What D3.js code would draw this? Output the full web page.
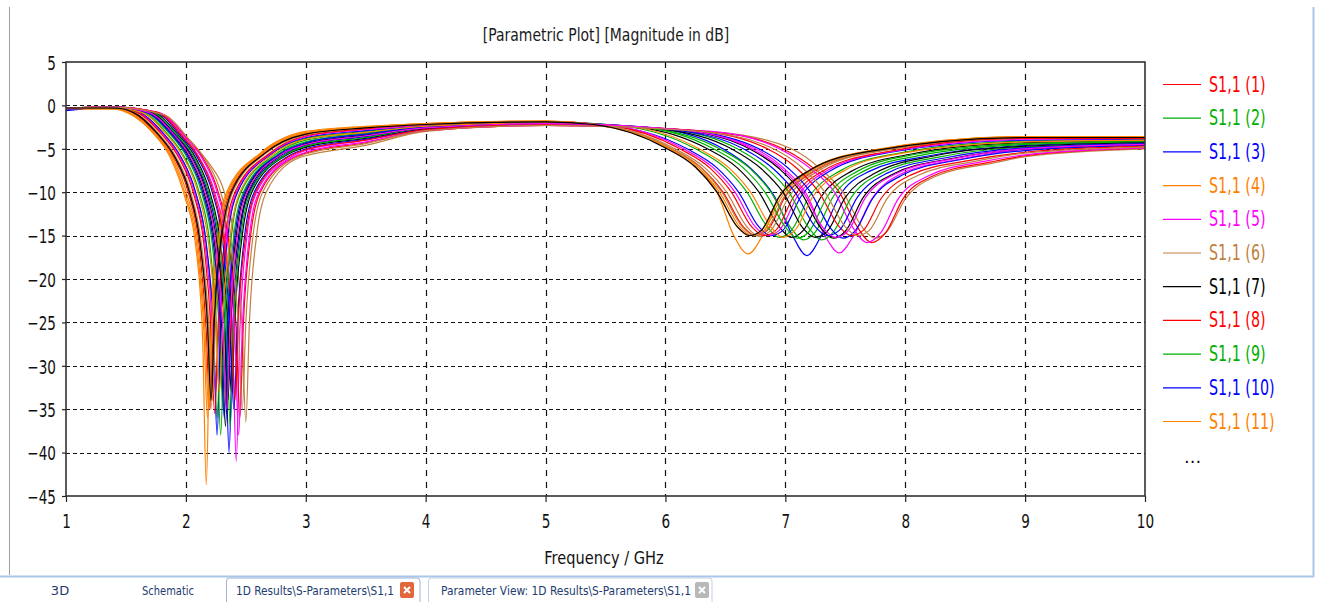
<!DOCTYPE html>
<html>
<head>
<meta charset="UTF-8">
<title>S1,1 parametric plot</title>
<style>
  body { margin: 0; background: #fff; }
  svg { display: block; font-family: "DejaVu Sans", sans-serif; }
</style>
</head>
<body>
<svg width="1320" height="602"></svg>
<script src="https://d3js.org/d3.v7.min.js"></script>
<script>

// axis ticks
const freqTicks = [1, 2, 3, 4, 5, 6, 7, 8, 9, 10];
const dbTicks = [5, 0, -5, -10, -15, -20, -25, -30, -35, -40, -45];

// legend entries (first 11 are shown, then "...")
const legendLabels = ["S1,1 (1)", "S1,1 (2)", "S1,1 (3)", "S1,1 (4)", "S1,1 (5)", "S1,1 (6)",
  "S1,1 (7)", "S1,1 (8)", "S1,1 (9)", "S1,1 (10)", "S1,1 (11)"];
const tabLabels = ["3D", "Schematic", "1D Results\\S-Parameters\\S1,1", "Parameter View:  1D Results\\S-Parameters\\S1,1"];

// CST colour cycle
const colors = ["#ff0000", "#00b000", "#0000ff", "#ff8000", "#ff00ff", "#c08040", "#000000"];

// S1,1 curves: [GHz, dB]
const c1 = [[1,-0.3],[1.4,-0.3],[1.55,-0.8],[1.75,-3.2],[1.9,-6],[2.02,-10],[2.11,-16],[2.17,-26],[2.2,-35],[2.23,-25],[2.29,-15],[2.37,-10],[2.65,-5.5],[3,-3.3],[3.5,-2.6],[4,-2.2],[5,-1.9],[5.45,-2.3],[6.05,-5],[6.3,-7.2],[6.48,-10],[6.65,-14],[6.75,-15],[6.85,-14.4],[7,-10.5],[7.25,-7.5],[7.75,-5.3],[9,-3.7],[10,-3.7]];
const c2 = [[1,-0.3],[1.4,-0.2],[1.61,-0.8],[1.81,-3.2],[1.96,-6],[2.08,-10],[2.17,-16],[2.23,-26],[2.26,-36],[2.29,-25],[2.35,-15],[2.43,-10],[2.71,-5.6],[3,-3.8],[3.5,-3],[4,-2.3],[5,-1.9],[5.65,-2.4],[6.25,-5],[6.5,-7.2],[6.68,-10],[6.85,-14],[6.95,-15.2],[7.05,-14.4],[7.2,-10.5],[7.45,-7.6],[7.95,-5.5],[9,-4.1],[10,-3.9]];
const c3 = [[1,-0.6],[1.4,-0.2],[1.71,-0.8],[1.91,-3.3],[2.06,-6],[2.18,-10],[2.27,-16],[2.33,-27],[2.36,-40],[2.39,-26],[2.45,-15],[2.53,-10],[2.81,-5.8],[3,-4.6],[3.5,-3.6],[4,-2.6],[5,-2.1],[5.88,-2.6],[6.48,-5],[6.73,-7.5],[6.91,-10.5],[7.06,-15],[7.18,-17.3],[7.3,-15],[7.45,-10.5],[7.7,-7.6],[8.2,-5.8],[9,-4.6],[10,-4.2]];
const c4 = [[1,-0.4],[1.4,-0.4],[1.52,-0.9],[1.72,-3.1],[1.87,-6],[1.99,-10.5],[2.08,-16],[2.14,-27],[2.17,-43.7],[2.2,-26],[2.26,-15],[2.34,-10],[2.62,-5.5],[3,-3],[3.5,-2.4],[4,-2.1],[5,-1.8],[5.4,-2.2],[6,-4.7],[6.24,-7],[6.43,-10],[6.57,-15],[6.69,-17.1],[6.81,-15],[6.95,-10.5],[7.2,-7.5],[7.69,-5.3],[9,-3.6],[10,-3.6]];
const c5 = [[1,-0.3],[1.4,-0.2],[1.77,-0.8],[1.97,-3.5],[2.12,-6.2],[2.24,-10],[2.33,-16],[2.39,-27],[2.42,-41],[2.45,-26],[2.51,-15],[2.59,-10],[2.87,-6],[3,-5.2],[3.5,-4],[4,-2.8],[5,-2.2],[6.15,-2.9],[6.75,-5],[7,-7.4],[7.18,-10.3],[7.33,-15],[7.45,-17],[7.57,-15],[7.72,-10.8],[7.95,-8],[8.45,-6.2],[9,-5.1],[10,-4.6]];
const c6 = [[1,-0.3],[1.4,-0.2],[1.85,-1.5],[2,-4],[2.2,-6.8],[2.32,-10],[2.41,-16],[2.47,-26],[2.5,-36.5],[2.53,-25],[2.59,-15],[2.67,-10],[2.95,-6],[3,-5.8],[3.5,-4.6],[4,-3],[5,-2.3],[6.45,-3.1],[7.05,-5],[7.3,-7.4],[7.48,-10],[7.65,-14.2],[7.75,-15.3],[7.85,-14.5],[8,-10.8],[8.25,-8.2],[8.75,-6.6],[9,-5.9],[10,-5]];
const c7 = [[1,-0.3],[1.4,-0.3],[1.68,-0.8],[1.88,-3.2],[2.03,-6],[2.15,-10],[2.24,-16],[2.3,-26],[2.33,-37],[2.36,-25],[2.42,-15],[2.5,-10],[2.78,-5.7],[3,-4.4],[3.5,-3.4],[4,-2.5],[5,-2],[5.75,-2.5],[6.35,-5],[6.6,-7.2],[6.78,-10],[6.95,-14],[7.05,-15.2],[7.15,-14.4],[7.3,-10.5],[7.55,-7.6],[8.05,-5.6],[9,-4.3],[10,-4.1]];
const c8 = [[1,-0.3],[1.4,-0.2],[1.8,-1],[2,-3.6],[2.15,-6.2],[2.27,-10],[2.36,-16],[2.42,-26],[2.45,-36],[2.48,-25],[2.54,-15],[2.62,-10],[2.9,-6],[3,-5.5],[3.5,-4.3],[4,-2.9],[5,-2.3],[6.42,-3.1],[6.98,-5],[7.25,-7.4],[7.45,-10],[7.6,-14],[7.72,-15.8],[7.84,-14.6],[7.98,-10.8],[8.22,-8.2],[8.72,-6.5],[9,-5.8],[10,-4.9]];
const c9 = [[1,-0.3],[1.4,-0.3],[1.66,-0.8],[1.86,-3.2],[2.01,-6],[2.13,-10],[2.22,-16],[2.28,-26],[2.31,-35],[2.34,-25],[2.4,-15],[2.48,-10],[2.76,-5.7],[3,-4.2],[3.5,-3.3],[4,-2.5],[5,-2],[5.85,-2.6],[6.45,-5],[6.7,-7.2],[6.88,-10],[7.05,-14.2],[7.15,-15.5],[7.25,-14.6],[7.4,-10.5],[7.65,-7.6],[8.15,-5.7],[9,-4.5],[10,-4.2]];
const c10 = [[1,-0.4],[1.4,-0.3],[1.61,-0.8],[1.81,-3.2],[1.96,-6],[2.08,-10],[2.17,-16],[2.23,-26],[2.26,-38],[2.29,-25],[2.35,-15],[2.43,-10],[2.71,-5.6],[3,-3.7],[3.5,-2.9],[4,-2.3],[5,-1.9],[5.58,-2.4],[6.18,-5],[6.43,-7.2],[6.61,-10],[6.78,-14],[6.88,-15],[6.98,-14.4],[7.13,-10.5],[7.38,-7.5],[7.88,-5.4],[9,-4],[10,-3.9]];
const c11 = [[1,-0.4],[1.4,-0.4],[1.53,-0.9],[1.73,-3.2],[1.88,-6],[2,-10.5],[2.09,-16],[2.15,-26],[2.18,-36],[2.21,-25],[2.27,-15],[2.35,-10],[2.63,-5.5],[3,-3.1],[3.5,-2.5],[4,-2.1],[5,-1.8],[5.42,-2.2],[6.02,-4.8],[6.27,-7.1],[6.45,-10],[6.62,-14],[6.72,-15],[6.82,-14.4],[6.97,-10.5],[7.22,-7.5],[7.72,-5.3],[9,-3.6],[10,-3.7]];
const c12 = [[1,-0.3],[1.4,-0.2],[1.6,-0.8],[1.8,-3.2],[1.95,-6],[2.07,-10],[2.16,-16],[2.22,-25],[2.25,-33],[2.28,-24],[2.34,-15],[2.42,-10],[2.7,-5.6],[3,-3.6],[3.5,-2.8],[4,-2.3],[5,-1.9],[5.55,-2.3],[6.15,-5],[6.4,-7.2],[6.58,-10],[6.75,-14],[6.85,-15],[6.95,-14.4],[7.1,-10.5],[7.35,-7.5],[7.85,-5.4],[9,-3.9],[10,-3.8]];
const c13 = [[1,-0.4],[1.4,-0.3],[1.56,-0.8],[1.76,-3.2],[1.91,-6],[2.03,-10],[2.12,-16],[2.18,-26],[2.21,-35],[2.24,-25],[2.3,-15],[2.38,-10],[2.66,-5.5],[3,-3.3],[3.5,-2.6],[4,-2.2],[5,-1.9],[5.48,-2.3],[6.08,-5],[6.33,-7.2],[6.51,-10],[6.68,-14],[6.78,-15.1],[6.88,-14.4],[7.03,-10.5],[7.28,-7.5],[7.78,-5.3],[9,-3.8],[10,-3.7]];
const c14 = [[1,-0.3],[1.4,-0.2],[1.73,-0.8],[1.93,-3.3],[2.08,-6],[2.2,-10],[2.29,-16],[2.35,-25],[2.38,-33],[2.41,-24],[2.47,-15],[2.55,-10],[2.83,-5.8],[3,-4.8],[3.5,-3.8],[4,-2.7],[5,-2.1],[6.1,-2.8],[6.7,-5],[6.95,-7.3],[7.13,-10],[7.3,-14.2],[7.4,-15.3],[7.5,-14.5],[7.65,-10.6],[7.9,-7.9],[8.4,-6.1],[9,-5],[10,-4.5]];
const c15 = [[1,-0.3],[1.4,-0.3],[1.59,-0.8],[1.79,-3.2],[1.94,-6],[2.06,-10],[2.15,-16],[2.21,-26],[2.24,-35.5],[2.27,-25],[2.33,-15],[2.41,-10],[2.69,-5.6],[3,-3.5],[3.5,-2.7],[4,-2.2],[5,-1.9],[5.52,-2.3],[6.12,-5],[6.37,-7.2],[6.55,-10],[6.72,-14],[6.82,-15],[6.92,-14.4],[7.07,-10.5],[7.32,-7.5],[7.82,-5.4],[9,-3.8],[10,-3.8]];
const c16 = [[1,-0.3],[1.4,-0.2],[1.72,-0.8],[1.92,-3.3],[2.07,-6],[2.19,-10],[2.28,-16],[2.34,-26],[2.37,-37],[2.4,-25],[2.46,-15],[2.54,-10],[2.82,-5.8],[3,-4.7],[3.5,-3.7],[4,-2.6],[5,-2.1],[6,-2.7],[6.6,-5],[6.85,-7.3],[7.03,-10],[7.2,-14.2],[7.3,-15.5],[7.4,-14.6],[7.55,-10.6],[7.8,-7.8],[8.3,-5.9],[9,-4.8],[10,-4.4]];
const c17 = [[1,-0.4],[1.4,-0.3],[1.75,-0.8],[1.95,-3.4],[2.1,-6.1],[2.22,-10],[2.31,-16],[2.37,-26],[2.4,-35],[2.43,-25],[2.49,-15],[2.57,-10],[2.85,-5.9],[3,-5],[3.5,-3.9],[4,-2.8],[5,-2.2],[6.18,-2.9],[6.78,-5],[7.03,-7.3],[7.21,-10],[7.38,-14.2],[7.48,-15.3],[7.58,-14.5],[7.73,-10.7],[7.98,-8],[8.48,-6.2],[9,-5.2],[10,-4.6]];
const c18 = [[1,-0.3],[1.4,-0.4],[1.54,-0.9],[1.74,-3.2],[1.89,-6],[2.01,-10.3],[2.1,-16],[2.16,-26],[2.19,-35],[2.22,-25],[2.28,-15],[2.36,-10],[2.64,-5.5],[3,-3.2],[3.5,-2.5],[4,-2.1],[5,-1.8],[5.4,-2.2],[6,-4.8],[6.25,-7.1],[6.43,-10],[6.6,-14],[6.7,-15],[6.8,-14.4],[6.95,-10.5],[7.2,-7.5],[7.7,-5.2],[9,-3.6],[10,-3.6]];
const c19 = [[1,-0.3],[1.4,-0.2],[1.79,-0.9],[1.99,-3.6],[2.14,-6.2],[2.26,-10],[2.35,-16],[2.41,-27],[2.44,-38],[2.47,-26],[2.53,-15],[2.61,-10],[2.89,-6],[3,-5.4],[3.5,-4.2],[4,-2.9],[5,-2.3],[6.38,-3],[6.95,-5],[7.22,-7.4],[7.41,-10],[7.56,-14],[7.68,-15.8],[7.8,-14.6],[7.94,-10.8],[8.18,-8.2],[8.68,-6.4],[9,-5.7],[10,-4.9]];
const c20 = [[1,-0.3],[1.4,-0.3],[1.57,-0.8],[1.77,-3.2],[1.92,-6],[2.04,-10],[2.13,-16],[2.19,-25],[2.22,-34],[2.25,-24],[2.31,-15],[2.39,-10],[2.67,-5.5],[3,-3.4],[3.5,-2.6],[4,-2.2],[5,-1.9],[5.44,-2.2],[6.04,-4.9],[6.29,-7.1],[6.47,-10],[6.64,-14],[6.74,-15],[6.84,-14.4],[6.99,-10.5],[7.24,-7.5],[7.74,-5.3],[9,-3.7],[10,-3.7]];
const c21 = [[1,-0.3],[1.4,-0.3],[1.7,-0.8],[1.9,-3.3],[2.05,-6],[2.17,-10],[2.26,-16],[2.32,-25],[2.35,-34],[2.38,-24],[2.44,-15],[2.52,-10],[2.8,-5.7],[3,-4.5],[3.5,-3.5],[4,-2.6],[5,-2.1],[5.95,-2.7],[6.55,-5],[6.8,-7.3],[6.98,-10],[7.15,-14.2],[7.25,-15.2],[7.35,-14.5],[7.5,-10.6],[7.75,-7.8],[8.25,-5.8],[9,-4.7],[10,-4.3]];
const c22 = [[1,-0.3],[1.4,-0.2],[1.76,-0.8],[1.96,-3.4],[2.11,-6.1],[2.23,-10],[2.32,-16],[2.38,-25],[2.41,-34],[2.44,-24],[2.5,-15],[2.58,-10],[2.86,-5.9],[3,-5.1],[3.5,-4],[4,-2.8],[5,-2.2],[6.25,-2.9],[6.85,-5],[7.1,-7.3],[7.28,-10],[7.45,-14],[7.55,-15],[7.65,-14.4],[7.8,-10.7],[8.05,-8],[8.55,-6.3],[9,-5.4],[10,-4.7]];
const c23 = [[1,-0.3],[1.4,-0.3],[1.64,-0.8],[1.84,-3.2],[1.99,-6],[2.11,-10],[2.2,-16],[2.26,-27],[2.29,-38],[2.32,-26],[2.38,-15],[2.46,-10],[2.74,-5.7],[3,-4],[3.5,-3.2],[4,-2.4],[5,-2],[5.8,-2.5],[6.4,-5],[6.65,-7.2],[6.83,-10],[7,-14],[7.1,-15.3],[7.2,-14.5],[7.35,-10.5],[7.6,-7.6],[8.1,-5.6],[9,-4.4],[10,-4.1]];
const c24 = [[1,-0.5],[1.4,-0.2],[1.67,-0.8],[1.87,-3.2],[2.02,-6],[2.14,-10],[2.23,-16],[2.29,-26],[2.32,-36],[2.35,-25],[2.41,-15],[2.49,-10],[2.77,-5.7],[3,-4.3],[3.5,-3.3],[4,-2.5],[5,-2],[6.05,-2.8],[6.65,-5],[6.9,-7.3],[7.08,-10],[7.25,-14],[7.35,-15],[7.45,-14.4],[7.6,-10.6],[7.85,-7.8],[8.35,-6],[9,-4.9],[10,-4.4]];
const c25 = [[1,-0.4],[1.4,-0.3],[1.63,-0.8],[1.83,-3.2],[1.98,-6],[2.1,-10],[2.19,-16],[2.25,-25],[2.28,-33],[2.31,-24],[2.37,-15],[2.45,-10],[2.73,-5.6],[3,-3.9],[3.5,-3.1],[4,-2.4],[5,-2],[5.68,-2.4],[6.28,-5],[6.53,-7.2],[6.71,-10],[6.88,-14],[6.98,-15.2],[7.08,-14.4],[7.23,-10.5],[7.48,-7.6],[7.98,-5.5],[9,-4.2],[10,-4]];
const c26 = [[1,-0.3],[1.4,-0.2],[1.69,-0.8],[1.89,-3.2],[2.04,-6],[2.16,-10],[2.25,-16],[2.31,-26],[2.34,-35],[2.37,-25],[2.43,-15],[2.51,-10],[2.79,-5.7],[3,-4.5],[3.5,-3.5],[4,-2.6],[5,-2.1],[6.12,-2.8],[6.72,-5],[6.97,-7.3],[7.15,-10],[7.32,-14.2],[7.42,-15.2],[7.52,-14.5],[7.67,-10.6],[7.92,-7.9],[8.42,-6.1],[9,-5],[10,-4.5]];
const c27 = [[1,-0.3],[1.4,-0.2],[1.82,-1.1],[2.02,-3.8],[2.17,-6.4],[2.29,-10],[2.38,-16],[2.44,-26],[2.47,-35],[2.5,-25],[2.56,-15],[2.64,-10],[2.92,-6],[3,-5.6],[3.5,-4.4],[4,-2.9],[5,-2.3],[6.3,-3],[6.9,-5],[7.15,-7.3],[7.33,-10],[7.5,-14],[7.6,-15],[7.7,-14.4],[7.85,-10.7],[8.1,-8.1],[8.6,-6.4],[9,-5.5],[10,-4.8]];
const c28 = [[1,-0.3],[1.4,-0.3],[1.56,-0.8],[1.76,-3.2],[1.91,-6],[2.03,-10],[2.12,-16],[2.18,-25],[2.21,-34],[2.24,-24],[2.3,-15],[2.38,-10],[2.66,-5.5],[3,-3.3],[3.5,-2.6],[4,-2.2],[5,-1.9],[5.4,-2.2],[6,-4.9],[6.25,-7.1],[6.43,-10],[6.6,-14],[6.7,-15],[6.8,-14.4],[6.95,-10.5],[7.2,-7.5],[7.7,-5.3],[9,-3.7],[10,-3.7]];

const series = [c1, c2, c3, c4, c5, c6, c7, c8, c9, c10, c11, c12, c13, c14,
  c15, c16, c17, c18, c19, c20, c21, c22, c23, c24, c25, c26, c27, c28];

let svg = d3.select("svg");

// horizontal squeeze of text to mimic the narrow screen font
function squeeze(sel, k) {
  sel.each(function() {
    let w = this.getComputedTextLength();
    d3.select(this).attr("textLength", w * k).attr("lengthAdjust", "spacingAndGlyphs");
  });
}

// window frame
svg.append("line").attr("x1", 9.5).attr("x2", 9.5).attr("y1", 7).attr("y2", 575)
  .attr("stroke", "#a0a0a0");
svg.append("line").attr("x1", 1313.5).attr("x2", 1313.5).attr("y1", 7).attr("y2", 577)
  .attr("stroke", "#a9c6ea").attr("stroke-width", 2);
svg.append("line").attr("x1", 0).attr("x2", 1314).attr("y1", 576.5).attr("y2", 576.5)
  .attr("stroke", "#a9c6ea").attr("stroke-width", 2);

// scales
let x = d3.scaleLinear().domain([1, 10]).range([66, 1145]);
let y = d3.scaleLinear().domain([5, -45]).range([62, 496]);

// title
svg.append("text").attr("x", 606).attr("y", 41).attr("text-anchor", "middle")
  .attr("font-size", 18).attr("fill", "#1a1a1a")
  .text("[Parametric Plot] [Magnitude in dB]")
  .call(squeeze, 0.775);

// grid
let grid = svg.append("g").attr("stroke", "#111").attr("stroke-width", 1.2);
grid.selectAll(".hg").data(dbTicks.slice(1, -1)).enter().append("line")
  .attr("x1", x(1)).attr("x2", x(10))
  .attr("y1", d => Math.round(y(d)) + 0.5).attr("y2", d => Math.round(y(d)) + 0.5)
  .attr("stroke-dasharray", "4,3");
grid.selectAll(".vg").data(freqTicks.slice(1, -1)).enter().append("line")
  .attr("y1", y(5)).attr("y2", y(-45))
  .attr("x1", d => Math.round(x(d)) + 0.5).attr("x2", d => Math.round(x(d)) + 0.5)
  .attr("stroke-dasharray", "6,6");

// curves
svg.append("clipPath").attr("id", "clip").append("rect")
  .attr("x", x(1)).attr("y", y(5)).attr("width", x(10) - x(1)).attr("height", y(-45) - y(5));

let line = d3.line().x(d => x(d[0])).y(d => y(d[1])).curve(d3.curveMonotoneX);

svg.append("g").attr("clip-path", "url(#clip)")
  .selectAll("path").data(series).enter().append("path")
  .attr("d", line)
  .attr("fill", "none")
  .attr("stroke", (d, i) => colors[i % colors.length])
  .attr("stroke-width", 1.2);

// axes
let yAxis = svg.append("g").attr("transform", "translate(66,0)")
  .call(d3.axisLeft(y).tickValues(dbTicks).tickSize(4).tickPadding(6).tickFormat(d3.format("d")));
let xAxis = svg.append("g").attr("transform", "translate(0,496)")
  .call(d3.axisBottom(x).tickValues(freqTicks).tickSize(6).tickPadding(8).tickFormat(d3.format("d")));

[xAxis, yAxis].forEach(a => {
  a.select(".domain").remove();
  a.selectAll(".tick line").attr("stroke", "#222").attr("stroke-width", 1.2);
  a.selectAll("text").attr("font-family", "DejaVu Sans").attr("font-size", 20).attr("fill", "#111");
});
yAxis.selectAll("text").attr("dy", "0.36em").call(squeeze, 0.68);
xAxis.selectAll("text").attr("dy", "0.9em").call(squeeze, 0.68);

// plot frame
svg.append("rect").attr("x", x(1)).attr("y", y(5))
  .attr("width", x(10) - x(1)).attr("height", y(-45) - y(5))
  .attr("fill", "none").attr("stroke", "#333").attr("stroke-width", 1.6);

// axis label
svg.append("text").attr("x", 604).attr("y", 564).attr("text-anchor", "middle")
  .attr("font-size", 18).attr("fill", "#111").text("Frequency / GHz")
  .call(squeeze, 0.81);

// legend
let legend = svg.append("g").selectAll("g").data(legendLabels).enter().append("g")
  .attr("transform", (d, i) => `translate(0,${84.5 + i * 33.7})`);
legend.append("line").attr("x1", 1163).attr("x2", 1201).attr("y1", 0).attr("y2", 0)
  .attr("stroke", (d, i) => colors[i % colors.length]).attr("stroke-width", 1.2);
legend.append("text").attr("x", 1209).attr("y", 7).attr("font-size", 21)
  .attr("fill", (d, i) => colors[i % colors.length]).text(d => d)
  .call(squeeze, 0.68);
svg.append("text").attr("x", 1184).attr("y", 463).attr("font-size", 18).attr("fill", "#111")
  .text("...");

// tab bar at the bottom
let tabs = svg.append("g").attr("font-size", 13).attr("fill", "#1d3b6f");
tabs.append("path").attr("d", "M226.5,602 V581 q0,-3 3,-3 H417 q3,0 3,3 V602")
  .attr("fill", "#fff").attr("stroke", "#9db6d6");
tabs.append("path").attr("d", "M428.5,602 V581 q0,-3 3,-3 H709 q3,0 3,3 V602")
  .attr("fill", "#fff").attr("stroke", "#c4d2e4");

// close buttons drawn as small boxes with a cross
let closeBtns = [[400, "#e2683c"], [695, "#b8b8b8"]];
let btn = tabs.selectAll(".cb").data(closeBtns).enter().append("g")
  .attr("transform", d => `translate(${d[0]},582)`);
btn.append("rect").attr("width", 14).attr("height", 16).attr("rx", 2).attr("fill", d => d[1]);
btn.append("path").attr("d", "M4,5 L10,11 M10,5 L4,11")
  .attr("stroke", "#fff").attr("stroke-width", 2);

let tabPos = [[60, 54], [168, 52], [236, 158], [441, 250]];
tabs.selectAll(".tl").data(tabLabels).enter().append("text")
  .attr("x", (d, i) => tabPos[i][0]).attr("y", 595)
  .attr("text-anchor", (d, i) => i < 2 ? "middle" : "start")
  .text(d => d)
  .attr("textLength", (d, i) => i === 0 ? null : tabPos[i][1])
  .attr("lengthAdjust", "spacingAndGlyphs");

</script>
</body>
</html>
